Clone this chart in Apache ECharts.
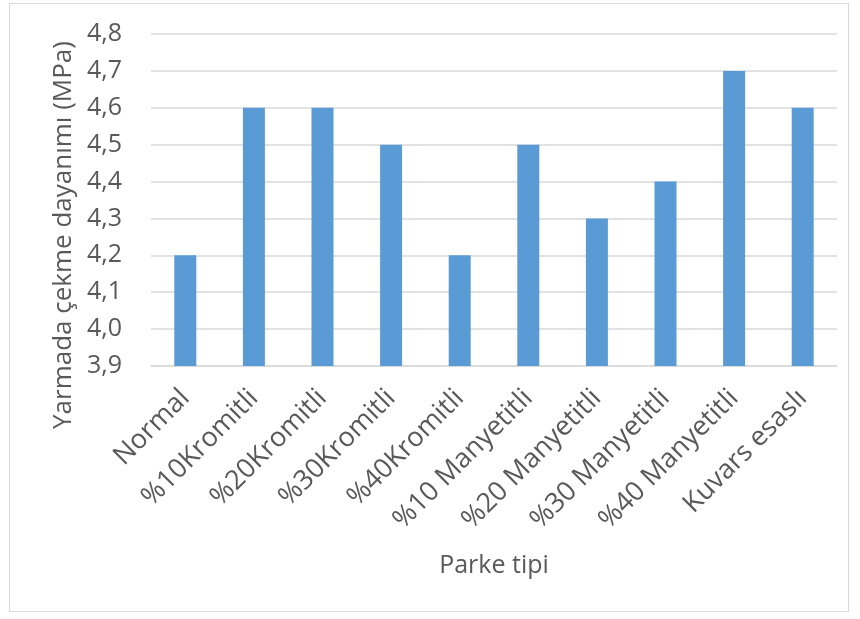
<!DOCTYPE html>
<html>
<head>
<meta charset="utf-8">
<script src="https://cdn.jsdelivr.net/npm/echarts@6/dist/echarts.min.js"></script>
<style>
  html, body { margin: 0; padding: 0; background: #fff; }
  #frame { position: absolute; left: 9px; top: 3px; width: 840px; height: 609px; border: 1px solid #d9d9d9; box-sizing: border-box; }
  #box { position: absolute; left: 0; top: 0; width: 860px; height: 619px; }
</style>
</head>
<body>
<div id="frame"></div>
<div id="box"></div>
<script>
// categories and values
const parkeTipi = ["Normal", "%10Kromitli", "%20Kromitli", "%30Kromitli", "%40Kromitli",
  "%10 Manyetitli", "%20 Manyetitli", "%30 Manyetitli", "%40 Manyetitli", "Kuvars esaslı"];
const cekmeDayanimi = [4.2, 4.6, 4.6, 4.5, 4.2, 4.5, 4.3, 4.4, 4.7, 4.6];
const yAdi = "Yarmada çekme dayanımı (MPa)";

const textColor = "#595959";
const myChart = echarts.init(document.getElementById("box"));
const option = {
  animation: false,
  textStyle: { fontFamily: "Open Sans" },
  grid: { left: 151, right: 23, top: 34, bottom: 253 },
  // y axis title placed by hand (Excel puts it off-centre)
  graphic: [{
    type: "text",
    x: 64,
    y: 235,
    rotation: Math.PI / 2,
    style: {
      text: yAdi,
      fontSize: 26,
      fontFamily: "Open Sans",
      fill: textColor,
      align: "center",
      verticalAlign: "middle"
    }
  }],
  xAxis: {
    type: "category",
    data: parkeTipi,
    name: "Parke tipi",
    nameLocation: "middle",
    nameGap: 187,
    nameMoveOverlap: false,
    nameTextStyle: { fontSize: 25, color: textColor },
    axisLine: { lineStyle: { color: "#d9d9d9", width: 1.5 } },
    axisTick: { show: false },
    axisLabel: { rotate: 45, fontSize: 27, color: textColor, margin: 28, interval: 0 }
  },
  yAxis: {
    type: "value",
    min: 3.9,
    max: 4.8,
    interval: 0.1,
    axisLine: { show: false },
    axisTick: { show: false },
    splitLine: { lineStyle: { color: "#d9d9d9", width: 1.5 } },
    axisLabel: {
      fontSize: 25,
      color: textColor,
      margin: 29,
      formatter: function (v) { return v.toFixed(1).replace(".", ","); }
    }
  },
  series: [{
    type: "bar",
    data: cekmeDayanimi,
    barWidth: 22,
    itemStyle: { color: "#5b9bd5" }
  }]
};
myChart.setOption(option);
</script>
</body>
</html>
